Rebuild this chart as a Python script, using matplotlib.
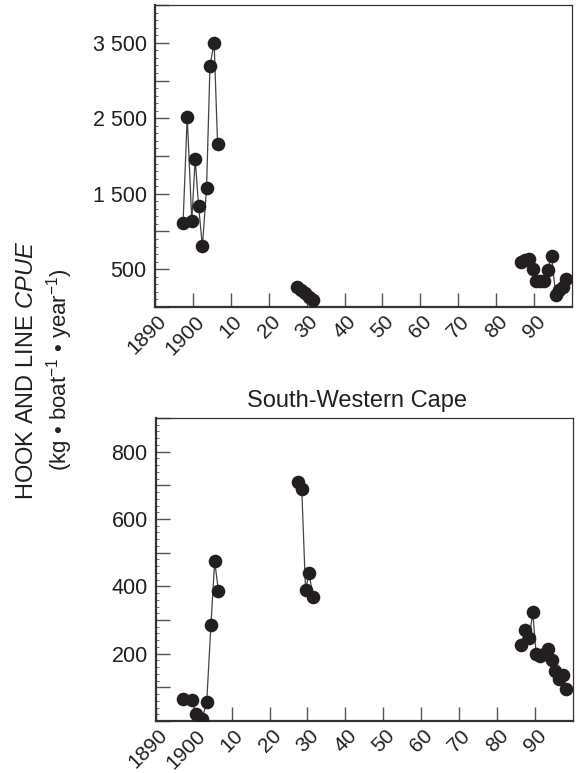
import matplotlib
matplotlib.use("Agg")
import matplotlib.pyplot as plt
from matplotlib.ticker import MultipleLocator, NullFormatter

plt.rcParams['font.family'] = ['Liberation Sans', 'DejaVu Sans']
plt.rcParams['mathtext.fontset'] = 'custom'
plt.rcParams['mathtext.rm'] = 'Liberation Sans'
plt.rcParams['mathtext.it'] = 'Liberation Sans:italic'

# ---- data ----
top_years_a = [1897.4, 1898.5, 1899.7, 1900.6, 1901.5, 1902.5, 1903.6, 1904.5, 1905.6, 1906.5]
top_vals_a = [1108, 2522, 1143, 1958, 1337, 804, 1575, 3196, 3500, 2165]
top_years_b = [1927.4, 1928.5, 1929.6, 1930.7, 1931.8]
top_vals_b = [265, 225, 180, 135, 90]
top_years_c = [1986.5, 1987.6, 1988.6, 1989.6, 1990.6, 1991.6, 1992.7, 1993.6, 1994.6,
               1995.7, 1996.6, 1997.5, 1998.5]
top_vals_c = [590, 620, 640, 500, 345, 350, 340, 490, 680, 160, 220, 270, 365]

bot_years_a = [1897.2, 1899.4, 1900.5, 1902.2, 1903.4, 1904.5, 1905.5, 1906.5]
bot_vals_a = [66, 63, 22, 6, 57, 284, 474, 386]
bot_years_b = [1927.5, 1928.5, 1929.5, 1930.4, 1931.5]
bot_vals_b = [710, 688, 388, 440, 367]
bot_years_c = [1986.4, 1987.5, 1988.6, 1989.5, 1990.4, 1991.4, 1992.5, 1993.5, 1994.6,
               1995.5, 1996.5, 1997.4, 1998.3]
bot_vals_c = [227, 271, 247, 324, 200, 192, 200, 215, 180, 148, 125, 136, 96]

x_ticks = [1890, 1900, 1910, 1920, 1930, 1940, 1950, 1960, 1970, 1980, 1990]
x_labels = ['1890', '1900', '10', '20', '30', '40', '50', '60', '70', '80', '90']
top_ytick_vals = [500, 1500, 2500, 3500]
top_ytick_labels = ['500', '1 500', '2 500', '3 500']
bot_ytick_vals = [200, 400, 600, 800]
bot_ytick_labels = ['200', '400', '600', '800']
title_bottom = 'South-Western Cape'

INK = '#231f20'
W, H = 579, 773
fig = plt.figure(figsize=(W / 100, H / 100), dpi=100)

ax1 = fig.add_axes([155 / W, 1 - 307 / H, (572 - 155) / W, (307 - 5) / H])
ax2 = fig.add_axes([156 / W, 1 - 721 / H, (572.5 - 156) / W, (721 - 418) / H])

def draw(ax, groups):
    for xs, ys in groups:
        ax.plot(xs, ys, '-', color='#444444', lw=0.9, zorder=2)
        ax.plot(xs, ys, 'o', color=INK, ms=9.8, mew=0, zorder=3)

draw(ax1, [(top_years_a, top_vals_a), (top_years_b, top_vals_b), (top_years_c, top_vals_c)])
draw(ax2, [(bot_years_a, bot_vals_a), (bot_years_b, bot_vals_b), (bot_years_c, bot_vals_c)])

ax1.yaxis.set_major_locator(MultipleLocator(500))
ax1.yaxis.set_minor_locator(MultipleLocator(100))
ax2.yaxis.set_major_locator(MultipleLocator(100))
ax2.yaxis.set_minor_locator(MultipleLocator(20))

for ax, yv, yl, ylim in [(ax1, top_ytick_vals, top_ytick_labels, (0, 4000)),
                         (ax2, bot_ytick_vals, bot_ytick_labels, (0, 900))]:
    ax.set_xlim(1890, 2000)
    ax.set_ylim(*ylim)
    ax.set_xticks(x_ticks)
    ax.xaxis.set_major_formatter(NullFormatter())
    for xv, lab in zip(x_ticks, x_labels):
        ax.annotate(lab, xy=(xv, 0), xycoords=('data', 'axes fraction'),
                    xytext=(11, -3.5), textcoords='offset points',
                    rotation=45, ha='right', va='top', fontsize=15, color=INK,
                    annotation_clip=False)
    locs = [v for v in ax.get_yticks() if ylim[0] <= v <= ylim[1]]
    ax.set_yticks(locs)
    ax.set_yticklabels([yl[yv.index(v)] if v in yv else '' for v in locs],
                       fontsize=15.5, color=INK)
    ax.set_ylim(*ylim)
    ax.tick_params(axis='both', which='major', direction='in', length=10, width=1.0,
                   color='#555555', pad=6)
    ax.tick_params(axis='y', which='minor', direction='in', length=2.5, width=0.6,
                   color='#555555')
    for s in ['top', 'right']:
        ax.spines[s].set_linewidth(0.9)
        ax.spines[s].set_color('#333333')
    for s in ['left', 'bottom']:
        ax.spines[s].set_linewidth(1.6)
        ax.spines[s].set_color('#333333')

ax2.set_title(title_bottom, fontsize=17, pad=8, color=INK, x=0.483)

fig.text(27 / W, 1 - 370 / H, r'HOOK AND LINE $\mathit{CPUE}$', rotation=90,
         ha='center', va='center', fontsize=17, color=INK)
fig.text(60 / W, 1 - 370 / H, r'(kg • boat$^{\mathrm{-1}}$ • year$^{\mathrm{-1}}$)', rotation=90,
         ha='center', va='center', fontsize=16, color=INK)

fig.savefig('out.png', dpi=100)
